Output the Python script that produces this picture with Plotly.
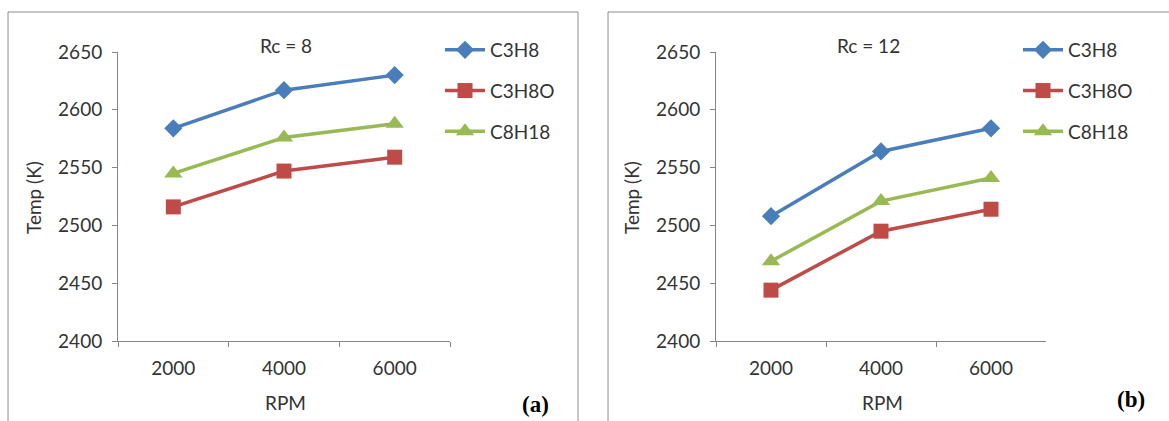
import plotly.graph_objects as go

W, H = 1169, 421

rpm = ["2000", "4000", "6000"]
series_names = ["C3H8", "C3H8O", "C8H18"]
rc8_c3h8 = [2584, 2617, 2630]
rc8_c3h8o = [2516, 2547, 2559]
rc8_c8h18 = [2545, 2576, 2588]
rc12_c3h8 = [2508, 2564, 2584]
rc12_c3h8o = [2444, 2495, 2514]
rc12_c8h18 = [2469, 2521, 2541]
y_ticks = [2400, 2450, 2500, 2550, 2600, 2650]

colors = ["#4A7EBB", "#BE4B48", "#98B954"]
symbols = ["diamond", "square", "triangle-up"]
msizes = [14, 15, 16]

FONT = "Lato"
FS = 19
TXT = "#333333"
AX = "#868686"


def px(x):
    return x / W


def py(y):
    return 1 - y / H


fig = go.Figure()

panels = [
    ("x", "y", "legend", [rc8_c3h8, rc8_c3h8o, rc8_c8h18]),
    ("x2", "y2", "legend2", [rc12_c3h8, rc12_c3h8o, rc12_c8h18]),
]
for xa, ya, lg, data in panels:
    for i, (name, vals) in enumerate(zip(series_names, data)):
        fig.add_trace(go.Scatter(
            x=rpm, y=vals, name=name, xaxis=xa, yaxis=ya, legend=lg,
            legendgroup=lg + name,
            mode="lines+markers",
            line=dict(color=colors[i], width=3.5),
            marker=dict(symbol=symbols[i], size=msizes[i], color=colors[i]),
        ))

axis_common = dict(
    showline=True, linecolor=AX, linewidth=1, showgrid=False, zeroline=False,
    ticks="outside", tickcolor=AX, ticklen=5, automargin=False,
    tickfont=dict(family=FONT, size=FS, color=TXT),
)

xdom1 = [px(118), px(450)]
xdom2 = [px(716), px(1046)]
ydom = [py(341), py(52)]

leg_common = dict(xanchor="left", yanchor="top",
                  font=dict(family=FONT, size=FS, color=TXT),
                  bgcolor="rgba(0,0,0,0)", tracegroupgap=13, itemwidth=40)

fig.update_layout(
    width=W, height=H,
    margin=dict(l=0, r=0, t=0, b=0, pad=0, autoexpand=False),
    paper_bgcolor="white", plot_bgcolor="white",
    xaxis=dict(domain=xdom1, anchor="y", type="category", categoryorder="array",
               categoryarray=rpm, range=[-0.5, 2.5], tickson="boundaries",
               ticklabelstandoff=10, **axis_common),
    yaxis=dict(domain=ydom, anchor="x", range=[2400, 2650], tickvals=y_ticks,
               ticklabelstandoff=6, **axis_common),
    xaxis2=dict(domain=xdom2, anchor="y2", type="category", categoryorder="array",
                categoryarray=rpm, range=[-0.5, 2.5], tickson="boundaries",
                ticklabelstandoff=10, **axis_common),
    yaxis2=dict(domain=ydom, anchor="x2", range=[2400, 2650], tickvals=y_ticks,
                ticklabelstandoff=6, **axis_common),
    legend=dict(x=px(440), y=py(31), **leg_common),
    legend2=dict(x=px(1018), y=py(31), **leg_common),
    showlegend=True,
)

# panel borders
fig.add_shape(type="rect", xref="paper", yref="paper",
              x0=px(8), x1=px(578), y0=py(430), y1=py(12),
              line=dict(color="#8C8C8C", width=1), fillcolor="rgba(0,0,0,0)")
fig.add_shape(type="rect", xref="paper", yref="paper",
              x0=px(608), x1=px(1180), y0=py(430), y1=py(12),
              line=dict(color="#8C8C8C", width=1), fillcolor="rgba(0,0,0,0)")

font_txt = dict(family=FONT, size=FS, color=TXT)


def label(text, x, y, **kw):
    d = dict(text=text, x=px(x), y=py(y), xref="paper", yref="paper",
             showarrow=False, xanchor="center", yanchor="middle", font=font_txt)
    d.update(kw)
    return d


ann = [
    label("Rc = 8", 286, 45),
    label("Rc = 12", 868, 45),
    label("RPM", 285, 402),
    label("RPM", 882, 402),
    label("Temp (K)", 33, 198, textangle=-90),
    label("Temp (K)", 631, 198, textangle=-90),
    label("<b>(a)</b>", 535, 404,
          font=dict(family="Liberation Serif", size=23, color="black")),
    label("<b>(b)</b>", 1131, 399,
          font=dict(family="Liberation Serif", size=23, color="black")),
]
fig.update_layout(annotations=ann)

fig.write_html("out.html")
